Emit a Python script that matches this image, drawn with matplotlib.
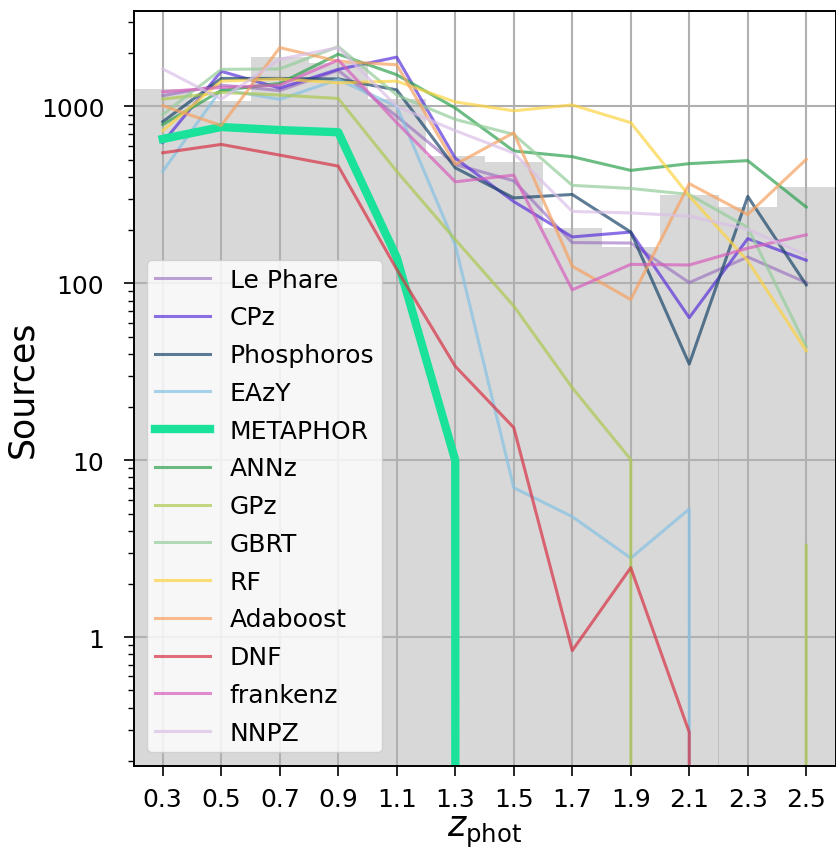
import matplotlib
matplotlib.use("Agg")
import matplotlib.pyplot as plt
from matplotlib.ticker import FixedLocator, FuncFormatter, LogLocator, NullFormatter

# photometric redshift bin centres (bins 0.2 wide)
z_centres = [0.3, 0.5, 0.7, 0.9, 1.1, 1.3, 1.5, 1.7, 1.9, 2.1, 2.3, 2.5]
z_ticklabels = ["0.3", "0.5", "0.7", "0.9", "1.1", "1.3", "1.5", "1.7", "1.9", "2.1", "2.3", "2.5"]

# reference sample counts per bin
reference_counts = [1250, 1080, 1900, 1765, 1100, 522, 483, 206, 160, 315, 270, 350]

# counts per method
le_phare = [1150, 1320, 1230, 1600, 880, 470, 380, 170, 169, 101, 141, 101]
cpz = [625, 1580, 1270, 1620, 1900, 510, 290, 183, 195, 64, 179, 135]
phosphoros = [820, 1440, 1440, 1430, 1240, 450, 304, 318, 195, 35, 310, 98]
eazy = [430, 1250, 1096, 1420, 1000, 165, 7.0, 4.8, 2.8, 5.3, 0, 0]
metaphor = [655, 765, 735, 715, 140, 10, 0, 0, 0, 0, 0, 0]
annz = [790, 1230, 1350, 1975, 1510, 980, 560, 520, 435, 475, 494, 270]
gpz = [1100, 1200, 1160, 1110, 430, 177, 74.5, 25.7, 10.1, 0, 0, 3.3]
gbrt = [900, 1620, 1630, 2180, 1160, 845, 695, 358, 344, 318, 207, 44]
rf = [730, 1390, 1430, 1360, 1390, 1060, 945, 1020, 810, 312, 134, 41.6]
adaboost = [1010, 780, 2150, 1800, 1720, 470, 710, 125, 81, 366, 245, 502]
dnf = [547, 610, 531, 460, 120, 34, 15.3, 0.84, 2.47, 0.29, 0, 0]
frankenz = [1210, 1280, 1320, 1830, 810, 375, 409, 92, 128, 127, 158, 188]
nnpz = [1630, 1100, 1850, 2150, 1000, 730, 545, 255, 250, 240, 202, 145]

methods = [
    ("Le Phare", le_phare, "#9467bd", 0.6, 2.2),
    ("CPz", cpz, "#5a32da", 0.7, 2.2),
    ("Phosphoros", phosphoros, "#1a4569", 0.7, 2.2),
    ("EAzY", eazy, "#84c2e4", 0.7, 2.2),
    ("METAPHOR", metaphor, "#1ae29a", 1.0, 6.0),
    ("ANNz", annz, "#2ea14e", 0.7, 2.2),
    ("GPz", gpz, "#acc951", 0.7, 2.2),
    ("GBRT", gbrt, "#95cd9a", 0.7, 2.2),
    ("RF", rf, "#fcd341", 0.7, 2.2),
    ("Adaboost", adaboost, "#f6a160", 0.7, 2.2),
    ("DNF", dnf, "#d83144", 0.7, 2.2),
    ("frankenz", frankenz, "#d75ebc", 0.7, 2.2),
    ("NNPZ", nnpz, "#dac0e7", 0.7, 2.2),
]

fig = plt.figure(figsize=(8.36, 8.53), dpi=100)
ax = fig.add_axes([133.5 / 836, 1 - 767 / 853, 702 / 836, (767 - 12.3) / 853])

ax.bar(z_centres, reference_counts, width=0.2, color="gray", alpha=0.3, linewidth=0)

for name, values, colour, alpha, lw in methods:
    ax.plot(z_centres, values, color=colour, alpha=alpha, lw=lw, label=name)

ax.set_yscale("log")
ax.set_xlim(0.2, 2.6)
ax.set_ylim(0.187, 3450)

ax.xaxis.set_major_locator(FixedLocator(z_centres))
ax.set_xticklabels(z_ticklabels)
ax.yaxis.set_major_locator(LogLocator(base=10))
ax.yaxis.set_major_formatter(FuncFormatter(lambda v, _: f"{v:g}"))
ax.yaxis.set_minor_formatter(NullFormatter())

ax.grid(True, which="major", color="#b0b0b0", lw=1.5)
for s in ax.spines.values():
    s.set_linewidth(1.4)
ax.tick_params(axis="both", which="major", labelsize=18, length=7, width=1.2)
ax.tick_params(axis="x", which="major", pad=8)
ax.tick_params(axis="y", which="major", pad=14)
ax.tick_params(axis="both", which="minor", length=4, width=1.0)

ax.set_xlabel(r"$z_{\rm phot}$", fontsize=25, labelpad=2.5)
ax.set_ylabel("Sources", fontsize=25, labelpad=1)

ax.legend(loc="lower left", fontsize=18, labelspacing=0.55, handlelength=2.2,
          borderaxespad=0.55, borderpad=0.3)

fig.savefig("out.png", dpi=100)
